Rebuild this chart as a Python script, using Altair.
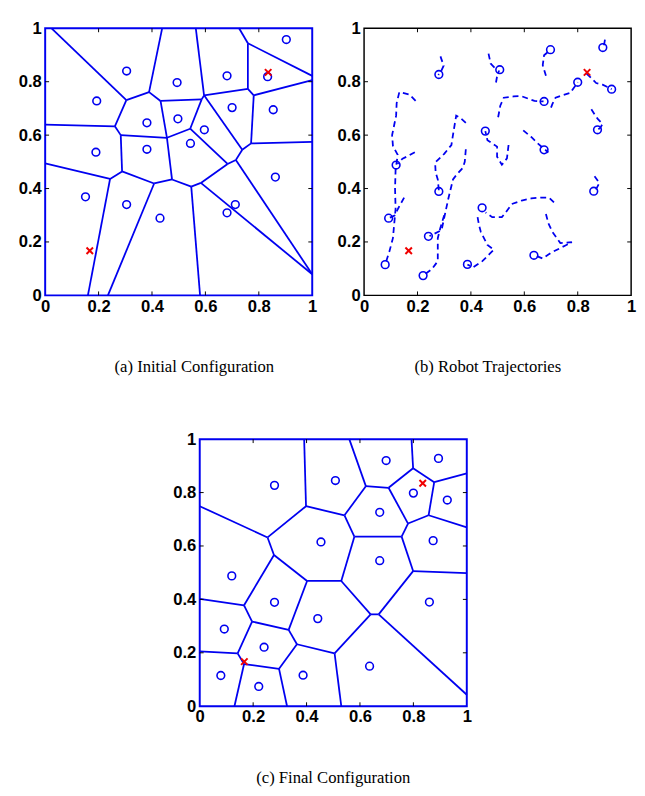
import altair as alt
import pandas as pd

BLUE = "#0000f0"
RED = "#f00000"
TICK_VALUES = [0, 0.2, 0.4, 0.6, 0.8, 1]
INNER_TICKS = [0.2, 0.4, 0.6, 0.8]
CAPTIONS = ["(a) Initial Configuration", "(b) Robot Trajectories", "(c) Final Configuration"]

# ---------------- (a) initial configuration ----------------
a_vertices = {
    "A": (0.304, 0.731), "B": (0.389, 0.761), "C": (0.432, 0.728), "D": (0.456, 0.590),
    "E": (0.261, 0.633), "F": (0.283, 0.600), "G": (0.288, 0.464), "H": (0.475, 0.434),
    "I": (0.243, 0.436), "J": (0.408, 0.419), "K": (0.547, 0.407), "L": (0.583, 0.421),
    "M": (0.683, 0.492), "T": (0.714, 0.507), "N": (0.595, 0.749), "V": (0.586, 0.734),
    "O": (0.759, 0.944), "P": (0.759, 0.773), "Q": (0.781, 0.749), "R": (0.771, 0.569),
    "S": (0.738, 0.545), "U": (0.543, 0.624), "W": (1.0, 0.079),
    "t1": (0.024, 1.0), "t2": (0.438, 1.0), "t3": (0.564, 1.0), "t4": (0.726, 1.0),
    "l1": (0.0, 0.639), "l2": (0.0, 0.494),
    "r1": (1.0, 0.822), "r2": (1.0, 0.806), "r3": (1.0, 0.575),
    "b1": (0.160, 0.0), "b2": (0.235, 0.0), "b3": (0.580, 0.0),
}
a_edges = [
    ("t1", "A"), ("A", "B"), ("B", "t2"), ("B", "C"), ("C", "V"), ("V", "N"), ("N", "t3"),
    ("N", "P"), ("P", "O"), ("O", "t4"), ("O", "r1"), ("P", "Q"), ("Q", "r2"), ("Q", "R"),
    ("R", "r3"), ("R", "S"), ("S", "N"), ("S", "T"), ("T", "M"), ("T", "W"), ("M", "U"),
    ("U", "V"), ("U", "D"), ("C", "D"), ("A", "E"), ("E", "l1"), ("E", "F"), ("F", "D"),
    ("F", "G"), ("G", "I"), ("I", "l2"), ("I", "b1"), ("G", "J"), ("J", "b2"), ("J", "H"),
    ("H", "D"), ("H", "K"), ("K", "b3"), ("K", "L"), ("L", "M"), ("L", "W"),
]
a_robots_x = [0.305, 0.193, 0.381, 0.494, 0.497, 0.190, 0.381, 0.903, 0.681, 0.833,
              0.700, 0.854, 0.596, 0.544, 0.151, 0.305, 0.430, 0.862, 0.712, 0.681]
a_robots_y = [0.840, 0.728, 0.646, 0.797, 0.661, 0.536, 0.547, 0.958, 0.822, 0.819,
              0.703, 0.695, 0.620, 0.569, 0.369, 0.340, 0.289, 0.443, 0.340, 0.309]

# ---------------- final positions (b, c) ----------------
f_robots_x = [0.280, 0.508, 0.698, 0.894, 0.800, 0.927, 0.674, 0.454, 0.874, 0.674,
              0.120, 0.280, 0.092, 0.241, 0.079, 0.221, 0.387, 0.860, 0.442, 0.636]
f_robots_y = [0.827, 0.845, 0.920, 0.928, 0.798, 0.772, 0.726, 0.615, 0.620, 0.545,
              0.488, 0.389, 0.289, 0.221, 0.115, 0.074, 0.116, 0.390, 0.328, 0.150]

targets_x = [0.835, 0.167]
targets_y = [0.835, 0.167]

# ---------------- (b) trajectories ----------------
trajectories = [
    [(0.286, 0.895), (0.298, 0.860), (0.288, 0.838), (0.278, 0.825)],
    [(0.193, 0.728), (0.170, 0.752), (0.132, 0.761), (0.122, 0.720), (0.120, 0.673),
     (0.105, 0.600), (0.108, 0.560), (0.126, 0.526), (0.118, 0.470), (0.116, 0.400),
     (0.118, 0.324), (0.108, 0.214), (0.095, 0.165), (0.083, 0.128), (0.079, 0.115)],
    [(0.381, 0.646), (0.360, 0.665), (0.345, 0.673), (0.336, 0.620), (0.327, 0.563),
     (0.300, 0.530), (0.266, 0.497), (0.268, 0.460), (0.276, 0.434), (0.280, 0.392)],
    [(0.494, 0.797), (0.499, 0.826), (0.506, 0.842)],
    [(0.466, 0.905), (0.474, 0.868), (0.495, 0.846)],
    [(0.502, 0.667), (0.510, 0.710), (0.523, 0.740), (0.560, 0.745), (0.589, 0.746),
     (0.638, 0.728), (0.672, 0.726)],
    [(0.190, 0.536), (0.165, 0.522), (0.144, 0.512), (0.125, 0.492)],
    [(0.381, 0.547), (0.377, 0.500), (0.370, 0.478), (0.345, 0.450), (0.333, 0.434),
     (0.315, 0.360), (0.300, 0.290), (0.290, 0.244), (0.266, 0.232), (0.245, 0.222)],
    [(0.902, 0.958), (0.899, 0.940), (0.894, 0.928)],
    [(0.681, 0.822), (0.669, 0.862), (0.674, 0.899), (0.696, 0.918)],
    [(0.833, 0.830), (0.845, 0.819), (0.869, 0.795), (0.893, 0.789), (0.918, 0.777),
     (0.927, 0.772)],
    [(0.700, 0.703), (0.705, 0.716), (0.717, 0.740), (0.745, 0.750), (0.772, 0.758),
     (0.800, 0.798)],
    [(0.851, 0.697), (0.865, 0.675), (0.875, 0.661), (0.893, 0.642), (0.885, 0.628),
     (0.874, 0.620)],
    [(0.596, 0.618), (0.625, 0.594), (0.650, 0.569), (0.690, 0.535), (0.674, 0.545)],
    [(0.541, 0.563), (0.535, 0.513), (0.516, 0.489), (0.498, 0.519), (0.498, 0.557),
     (0.462, 0.581), (0.454, 0.615)],
    [(0.150, 0.366), (0.130, 0.330), (0.114, 0.299), (0.092, 0.289)],
    [(0.300, 0.300), (0.285, 0.250), (0.276, 0.214), (0.276, 0.128), (0.254, 0.098),
     (0.229, 0.080)],
    [(0.425, 0.293), (0.430, 0.265), (0.437, 0.238), (0.462, 0.189), (0.486, 0.171),
     (0.470, 0.155), (0.443, 0.128), (0.407, 0.104), (0.387, 0.116)],
    [(0.863, 0.446), (0.881, 0.421), (0.870, 0.400), (0.860, 0.390)],
    [(0.711, 0.348), (0.693, 0.366), (0.660, 0.366), (0.626, 0.363), (0.590, 0.355),
     (0.553, 0.342), (0.530, 0.310), (0.516, 0.293), (0.480, 0.293), (0.455, 0.310)],
    [(0.681, 0.305), (0.690, 0.270), (0.705, 0.238), (0.735, 0.196), (0.778, 0.199),
     (0.754, 0.187), (0.699, 0.159), (0.669, 0.138), (0.640, 0.150)],
]

# ---------------- (c) final configuration ----------------
c_vertices = {
    "c1": (0.254, 0.632), "c2": (0.398, 0.749), "c3": (0.278, 0.566), "c4": (0.166, 0.378),
    "c5": (0.542, 0.715), "c6": (0.402, 0.469), "c7": (0.530, 0.469), "c8": (0.622, 0.824),
    "c9": (0.707, 0.818), "c10": (0.799, 0.891), "c11": (0.878, 0.839), "c12": (0.857, 0.715),
    "c13": (0.780, 0.684), "c14": (0.579, 0.635), "c15": (0.756, 0.635), "c16": (0.799, 0.506),
    "c17": (0.670, 0.344), "c18": (0.196, 0.317), "c19": (0.333, 0.286), "c20": (0.640, 0.344),
    "c21": (0.505, 0.198), "c22": (0.364, 0.232), "c23": (0.142, 0.198), "c24": (0.166, 0.158),
    "c25": (0.297, 0.140),
    "t1": (0.391, 1.0), "t2": (0.560, 1.0), "t3": (0.793, 1.0),
    "l1": (0.0, 0.749), "l2": (0.0, 0.402), "l3": (0.0, 0.205),
    "r1": (1.0, 0.872), "r2": (1.0, 0.670), "r3": (1.0, 0.498), "r4": (1.0, 0.043),
    "b1": (0.130, 0.0), "b2": (0.327, 0.0), "b3": (0.530, 0.0),
}
c_edges = [
    ("l1", "c1"), ("c1", "c2"), ("c2", "t1"), ("c2", "c5"), ("c1", "c3"), ("c3", "c4"),
    ("c3", "c6"), ("c4", "l2"), ("c4", "c18"), ("c18", "c19"), ("c18", "c23"), ("c19", "c6"),
    ("c19", "c22"), ("c22", "c21"), ("c22", "c25"), ("c23", "l3"), ("c23", "c24"),
    ("c24", "b1"), ("c24", "c25"), ("c25", "b2"), ("c21", "b3"), ("c21", "c20"),
    ("c20", "c7"), ("c20", "c17"), ("c17", "c16"), ("c17", "r4"), ("c16", "r3"),
    ("c16", "c15"), ("c15", "c14"), ("c15", "c13"), ("c14", "c7"), ("c14", "c5"),
    ("c7", "c6"), ("c5", "c8"), ("c8", "t2"), ("c8", "c9"), ("c9", "c10"), ("c10", "t3"),
    ("c10", "c11"), ("c11", "r1"), ("c11", "c12"), ("c12", "r2"), ("c12", "c13"),
    ("c13", "c9"),
]

# ---------------- helpers ----------------
W = 273
H = 273
SCALE = alt.Scale(domain=[0, 1], nice=False, zero=False)
LABEL = dict(labelFont="Liberation Sans", labelFontSize=17, labelFontWeight="bold",
             labelColor="black", ticks=False, domain=False, grid=False, title=None,
             labelFlush=False, labelOverlap=False, values=TICK_VALUES, format="~g")
AX_X = alt.Axis(labelPadding=3, **LABEL)
AX_Y = alt.Axis(labelPadding=4, **LABEL)


def X(field):
    return alt.X(field, type="quantitative", scale=SCALE, axis=AX_X)


def Y(field):
    return alt.Y(field, type="quantitative", scale=SCALE, axis=AX_Y)


def segments(vertices, edges):
    rows = []
    for p, q in edges:
        rows.append({"x": vertices[p][0], "y": vertices[p][1],
                     "x2": vertices[q][0], "y2": vertices[q][1]})
    return alt.Chart(pd.DataFrame(rows)).mark_rule(color=BLUE, strokeWidth=1.8).encode(
        x=X("x"), y=Y("y"), x2="x2", y2="y2")


def tick_layers():
    df = pd.DataFrame({"v": INNER_TICKS})
    base = alt.Chart(df).mark_rule(color="black", strokeWidth=1)
    return [
        base.encode(x=X("v"), y=alt.value(H), y2=alt.value(H - 4)),
        base.encode(x=X("v"), y=alt.value(0), y2=alt.value(4)),
        base.encode(y=Y("v"), x=alt.value(0), x2=alt.value(4)),
        base.encode(y=Y("v"), x=alt.value(W), x2=alt.value(W - 4)),
    ]


def circles(xs, ys):
    df = pd.DataFrame({"x": xs, "y": ys})
    return alt.Chart(df).mark_point(shape="circle", size=62, color=BLUE, filled=False,
                                    strokeWidth=1.6, opacity=1).encode(x=X("x"), y=Y("y"))


def crosses():
    df = pd.DataFrame({"x": targets_x, "y": targets_y})
    return alt.Chart(df).mark_point(shape="M-1,-1L1,1M1,-1L-1,1", size=44, color=RED,
                                    filled=False, strokeWidth=2, opacity=1).encode(
        x=X("x"), y=Y("y"))


def caption(text, dx=0):
    return alt.TitleParams(text, orient="bottom", anchor="middle", font="Liberation Serif",
                           fontSize=17, fontWeight="normal", color="black", offset=46, dx=dx)


traj_rows = []
for r, path in enumerate(trajectories):
    for i, (px, py) in enumerate(path):
        traj_rows.append({"robot": r, "i": i, "x": px, "y": py})
traj_df = pd.DataFrame(traj_rows)

panel_a = alt.layer(
    segments(a_vertices, a_edges), *tick_layers(), circles(a_robots_x, a_robots_y), crosses()
).properties(width=W, height=H, title=caption(CAPTIONS[0], 16),
             view=alt.ViewBackground(stroke=BLUE, strokeWidth=2))

traj = alt.Chart(traj_df).mark_line(color=BLUE, strokeWidth=1.8, strokeDash=[6, 4]).encode(
    x=X("x"), y=Y("y"), detail="robot:N", order="i:Q")
panel_b = alt.layer(
    traj, *tick_layers(), circles(f_robots_x, f_robots_y), crosses()
).properties(width=W, height=H, title=caption(CAPTIONS[1], -10),
             view=alt.ViewBackground(stroke="black", strokeWidth=1.5))

panel_c = alt.layer(
    segments(c_vertices, c_edges), *tick_layers(), circles(f_robots_x, f_robots_y), crosses()
).properties(width=W, height=H, title=caption(CAPTIONS[2]),
             view=alt.ViewBackground(stroke=BLUE, strokeWidth=2))

spacer = alt.Chart(pd.DataFrame({"v": [0]})).mark_point(opacity=0).encode(
    x=alt.value(0), y=alt.value(0)).properties(
    width=100, height=H, view=alt.ViewBackground(stroke="transparent"))

row1 = alt.hconcat(panel_a, panel_b, spacing=53, bounds="flush")
row2 = alt.hconcat(spacer, panel_c, spacing=58, bounds="flush")
chart = alt.vconcat(row1, row2, spacing=55).properties(
    padding={"left": 9, "top": 2, "right": 0, "bottom": 0})

chart.save("out.html", embed_options={"renderer": "svg", "actions": False})
